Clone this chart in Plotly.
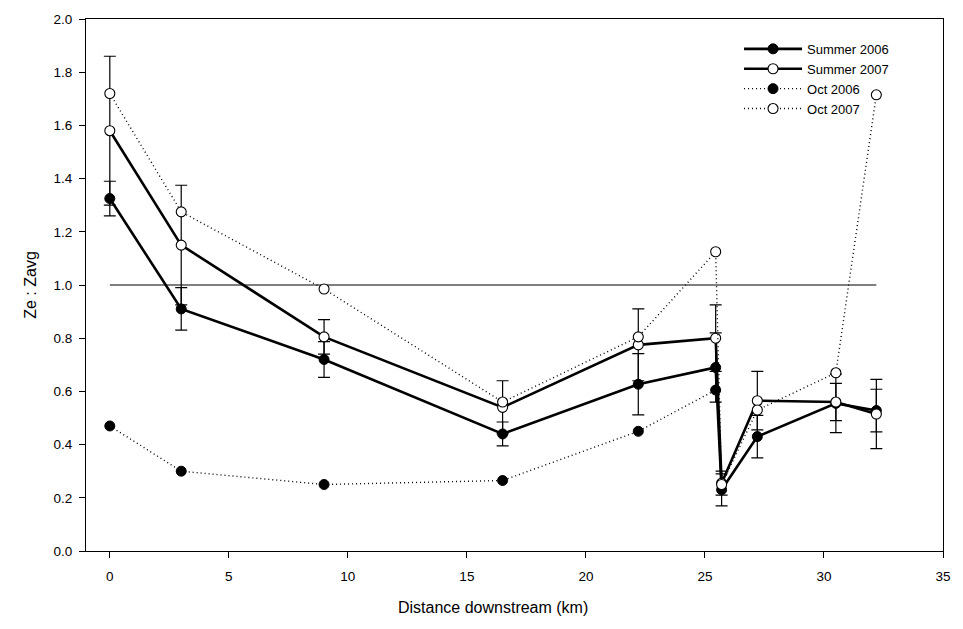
import plotly.graph_objects as go

# Distance downstream (km) of each sampling site
dist_summer = [0, 3, 9, 16.5, 22.2, 25.45, 25.7, 27.2, 30.5, 32.2]
dist_oct2006 = [0, 3, 9, 16.5, 22.2, 25.45]
dist_oct2007 = [0, 3, 9, 16.5, 22.2, 25.45, 25.7, 27.2, 30.5, 32.2]

# Ze : Zavg ratios
summer2006 = [1.325, 0.91, 0.72, 0.44, 0.627, 0.69, 0.23, 0.43, 0.555, 0.528]
summer2006_err = [0.065, 0.08, 0.067, 0.045, 0.115, 0.13, 0.06, 0.08, 0.11, 0.08]
summer2007 = [1.58, 1.15, 0.805, 0.54, 0.775, 0.80, 0.255, 0.565, 0.56, 0.515]
summer2007_err = [0.28, 0.225, 0.065, 0.10, 0.135, 0.125, 0.045, 0.11, 0.07, 0.13]
oct2006 = [0.47, 0.30, 0.25, 0.265, 0.45, 0.605]
oct2007 = [1.72, 1.275, 0.985, 0.56, 0.805, 1.125, 0.25, 0.53, 0.67, 1.715]

# Reference ratio line (Ze equal to Zavg)
ref_x = [0, 32.2]
ref_y = [1.0, 1.0]

x_ticks = [0, 5, 10, 15, 20, 25, 30, 35]
y_ticks = [0.0, 0.2, 0.4, 0.6, 0.8, 1.0, 1.2, 1.4, 1.6, 1.8, 2.0]

FONT = "Liberation Sans, Arial, sans-serif"
BLACK = "#000000"
DOTS = "1px,3px"

fig = go.Figure()

fig.add_trace(go.Scatter(
    x=ref_x, y=ref_y, mode="lines", showlegend=False, hoverinfo="skip",
    line=dict(color=BLACK, width=1.2),
))


def err(vals):
    return dict(type="data", array=vals, visible=True, color=BLACK,
                thickness=1.2, width=6)


fig.add_trace(go.Scatter(
    x=dist_summer, y=summer2006, name="Summer 2006", mode="lines+markers",
    line=dict(color=BLACK, width=2.6),
    marker=dict(symbol="circle", size=10, color=BLACK,
                line=dict(color=BLACK, width=1)),
    error_y=err(summer2006_err),
))
fig.add_trace(go.Scatter(
    x=dist_summer, y=summer2007, name="Summer 2007", mode="lines+markers",
    line=dict(color=BLACK, width=2.6),
    marker=dict(symbol="circle", size=10, color="white",
                line=dict(color=BLACK, width=1.1)),
    error_y=err(summer2007_err),
))
fig.add_trace(go.Scatter(
    x=dist_oct2006, y=oct2006, name="Oct 2006", mode="lines+markers",
    line=dict(color=BLACK, width=1.4, dash=DOTS),
    marker=dict(symbol="circle", size=10, color=BLACK,
                line=dict(color=BLACK, width=1)),
))
fig.add_trace(go.Scatter(
    x=dist_oct2007, y=oct2007, name="Oct 2007", mode="lines+markers",
    line=dict(color=BLACK, width=1.4, dash=DOTS),
    marker=dict(symbol="circle", size=10, color="white",
                line=dict(color=BLACK, width=1.1)),
))

axis_common = dict(
    showline=True, linecolor=BLACK, linewidth=1.2, mirror=True,
    ticks="outside", ticklen=6, tickwidth=1.2, tickcolor=BLACK,
    showgrid=False, zeroline=False,
    tickfont=dict(family=FONT, size=13.5, color=BLACK),
)

fig.update_layout(
    width=963, height=629,
    margin=dict(l=86, r=12, t=13, b=78),
    paper_bgcolor="white", plot_bgcolor="white",
    font=dict(family=FONT, color=BLACK),
    xaxis=dict(range=[-1, 35], tickvals=x_ticks, ticklabelstandoff=7,
               **axis_common),
    yaxis=dict(
        range=[0, 2], tickvals=y_ticks, tickformat=".1f", ticklabelstandoff=4,
        title=dict(text="Ze : Zavg",
                   font=dict(family=FONT, size=16, color=BLACK), standoff=12),
        **axis_common,
    ),
    annotations=[dict(
        text="Distance downstream (km)", xref="paper", yref="paper",
        x=0.475, y=0, xanchor="center", yanchor="middle", yshift=-56,
        showarrow=False, font=dict(family=FONT, size=16, color=BLACK),
    )],
    legend=dict(
        x=0.762, y=0.972, xanchor="left", yanchor="top",
        bgcolor="rgba(0,0,0,0)", borderwidth=0,
        font=dict(family=FONT, size=13, color=BLACK),
        itemwidth=58, tracegroupgap=0,
    ),
    showlegend=True,
)

fig.write_html("out.html")
